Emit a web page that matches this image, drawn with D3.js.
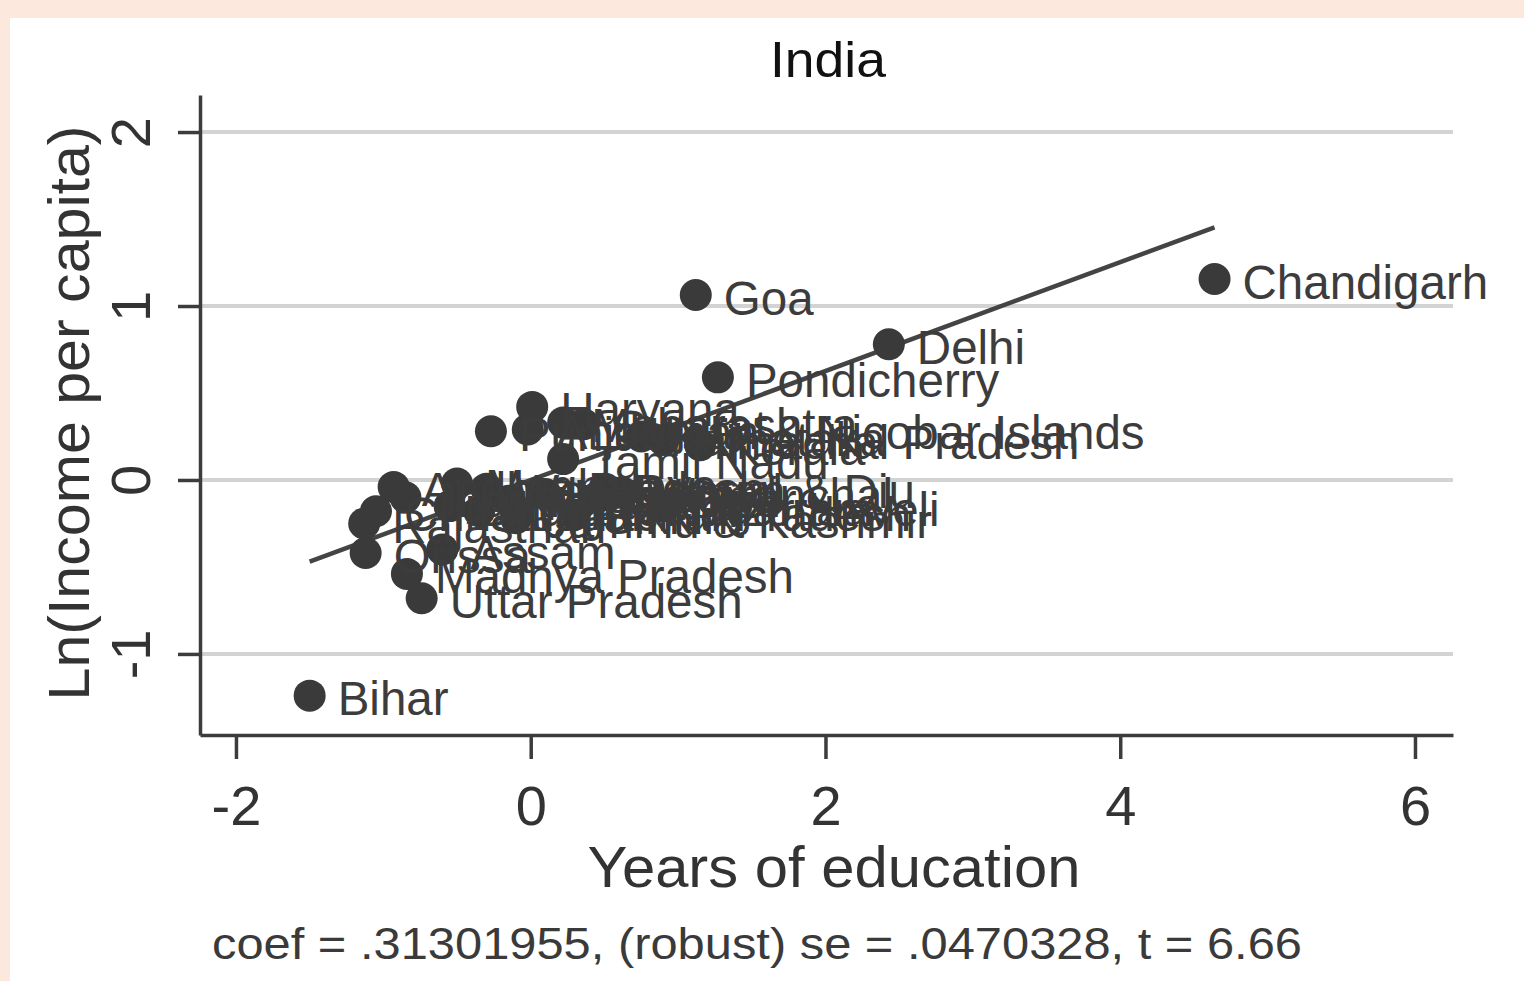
<!DOCTYPE html>
<html>
<head>
<meta charset="utf-8">
<script src="https://cdn.jsdelivr.net/npm/d3@7"></script>
<style>
html,body{margin:0;padding:0;background:#fce8dc;}
svg{display:block;}
text{font-family:"Liberation Sans",Arial,Helvetica,sans-serif;}
</style>
</head>
<body>
<svg id="chart" width="1524" height="981"></svg>
<script>
// ---- data ----
const states = ["Chandigarh","Goa","Delhi","Pondicherry","Haryana","Punjab","Andaman & Nicobar Islands","Maharashtra","Gujarat","Himachal Pradesh","Karnataka","Kerala","Tamil Nadu","Uttaranchal","Jammu & Kashmir","Assam","Madhya Pradesh","Uttar Pradesh","Bihar","Rajasthan","Orissa","Andhra Pradesh","Chhattisgarh","Meghalaya","West Bengal","Tripura","Nagaland","Manipur","Mizoram","Sikkim","Dadra & Nagar Haveli","Daman & Diu","Jharkhand","Arunachal Pradesh"];
const education = [4.64,1.12,2.43,1.27,0.01,-0.27,-0.02,0.22,0.36,0.90,0.75,1.15,0.22,0.62,-0.10,-0.60,-0.84,-0.74,-1.50,-1.13,-1.12,-0.93,-1.05,-0.50,-0.30,-0.15,0.10,0.45,0.90,0.30,-0.55,0.50,-0.85,-0.35];
const income    = [1.155,1.063,0.78,0.59,0.42,0.28,0.29,0.33,0.32,0.23,0.25,0.20,0.12,-0.07,-0.22,-0.40,-0.54,-0.68,-1.24,-0.25,-0.42,-0.04,-0.18,-0.02,-0.05,-0.12,-0.08,-0.10,-0.15,-0.20,-0.15,-0.05,-0.10,-0.18];
const xTicks = [-2,0,2,4,6];
const yTicks = [-1,0,1,2];
const coef = 0.31301955;
const titleText = "India";
const xTitle = "Years of education";
const yTitle = "Ln(Income per capita)";
const noteText = "coef = .31301955, (robust) se = .0470328, t = 6.66";

const svg = d3.select("#chart");
svg.append("rect").attr("x",10).attr("y",18).attr("width",1514).attr("height",963).attr("fill","#ffffff");

const x = d3.scaleLinear().domain([-2.244, 6.258]).range([200, 1453]);
const y = d3.scaleLinear().domain([-1.466, 2.213]).range([735, 95]);

const ink = "#3c3c3c";

// gridlines
svg.append("g").selectAll("line").data(yTicks).join("line")
  .attr("x1", x.range()[0]).attr("x2", x.range()[1])
  .attr("y1", d => y(d)).attr("y2", d => y(d))
  .attr("stroke", "#d3d3d3").attr("stroke-width", 4);

// axes
const xAxis = d3.axisBottom(x).tickValues(xTicks).tickFormat(d3.format("d")).tickSizeInner(24).tickSizeOuter(0).tickPadding(26);
const gx = svg.append("g").attr("transform", `translate(0,${y.range()[0]})`).call(xAxis);
gx.select(".domain").attr("stroke", ink).attr("stroke-width", 3.5);
gx.selectAll(".tick line").attr("stroke", ink).attr("stroke-width", 3.5);
gx.selectAll(".tick text").attr("font-size", 56).attr("fill", "#333").attr("dy", "0.71em")
  .text(d => d < 0 ? "-" + Math.abs(d) : d);

const yAxis = d3.axisLeft(y).tickValues(yTicks).tickFormat(d3.format("d")).tickSizeInner(22).tickSizeOuter(0).tickPadding(0);
const gy = svg.append("g").attr("transform", `translate(${x.range()[0]},0)`).call(yAxis);
gy.select(".domain").attr("stroke", ink).attr("stroke-width", 3.5);
gy.selectAll(".tick line").attr("stroke", ink).attr("stroke-width", 3.5);
gy.selectAll(".tick text").attr("font-size", 56).attr("fill", "#333")
  .attr("text-anchor", "middle").attr("dy", null).attr("dominant-baseline", "central")
  .attr("x", 0).attr("transform", "translate(-70,0) rotate(-90)")
  .text(d => d < 0 ? "-" + Math.abs(d) : d);

// regression line
const xmin = d3.min(education), xmax = d3.max(education);
svg.append("line")
  .attr("x1", x(xmin)).attr("y1", y(coef * xmin))
  .attr("x2", x(xmax)).attr("y2", y(coef * xmax))
  .attr("stroke", "#444").attr("stroke-width", 4.5);

const pts = states.map((s, i) => ({name: s, ex: education[i], inc: income[i]}));

// markers
svg.append("g").selectAll("circle").data(pts).join("circle")
  .attr("cx", d => x(d.ex)).attr("cy", d => y(d.inc)).attr("r", 16)
  .attr("fill", "#3a3a3a");

// labels
svg.append("g").selectAll("text").data(pts).join("text")
  .attr("x", d => x(d.ex) + 28).attr("y", d => y(d.inc) + 3)
  .attr("dominant-baseline", "central")
  .attr("font-size", 47.5).attr("fill", "#3c3c3c")
  .text(d => d.name);

// titles
svg.append("text").attr("x", 828).attr("y", 60).attr("text-anchor", "middle")
  .attr("dominant-baseline", "central").attr("font-size", 50).attr("fill", "#111")
  .attr("textLength", 116).attr("lengthAdjust", "spacingAndGlyphs").text(titleText);
svg.append("text").attr("x", 834).attr("y", 866).attr("text-anchor", "middle")
  .attr("dominant-baseline", "central").attr("font-size", 58).attr("fill", "#333")
  .attr("textLength", 493).attr("lengthAdjust", "spacingAndGlyphs").text(xTitle);
svg.append("text").attr("transform", "translate(68,413) rotate(-90)").attr("text-anchor", "middle")
  .attr("dominant-baseline", "central").attr("font-size", 58).attr("fill", "#333")
  .attr("textLength", 575).attr("lengthAdjust", "spacingAndGlyphs").text(yTitle);
svg.append("text").attr("x", 212).attr("y", 943).attr("dominant-baseline", "central")
  .attr("font-size", 45).attr("fill", "#3a3a3a").attr("textLength", 1090).attr("lengthAdjust", "spacingAndGlyphs")
  .text(noteText);
</script>
</body>
</html>
